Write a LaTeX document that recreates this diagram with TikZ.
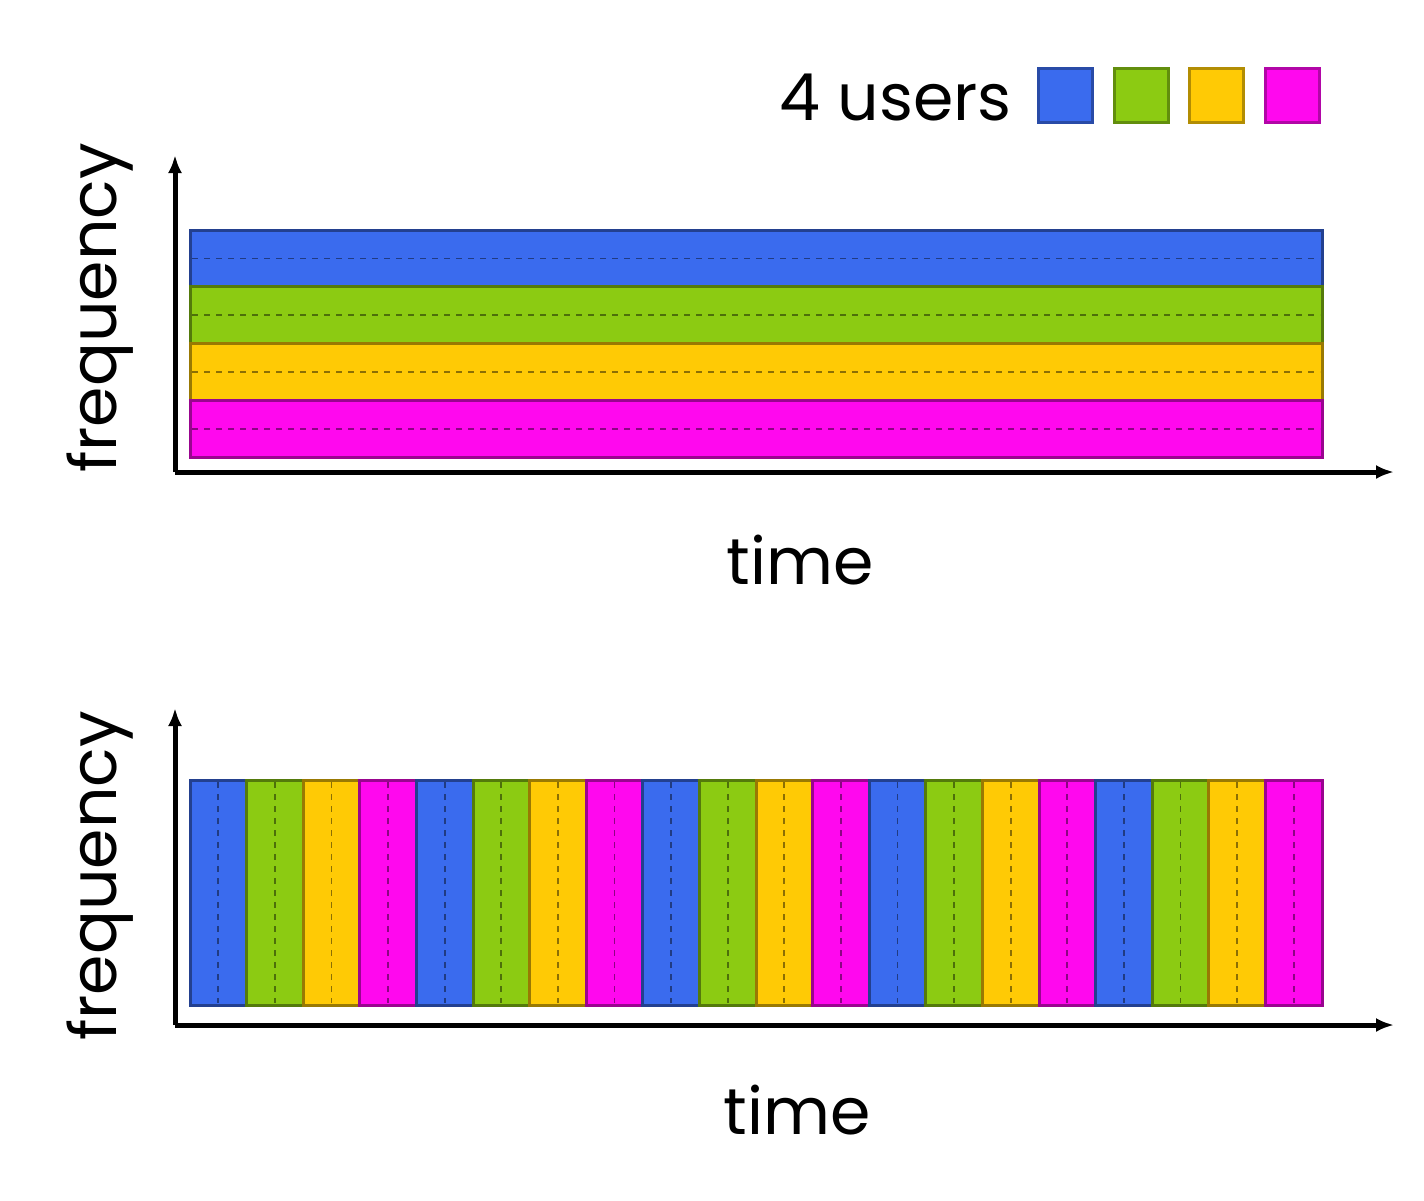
\documentclass[tikz,border=0pt]{standalone}
\usepackage{fontspec}
\setmainfont{Poppins}
\definecolor{ub}{HTML}{3A6BEE}
\definecolor{ug}{HTML}{8CCB12}
\definecolor{uy}{HTML}{FFCA05}
\definecolor{um}{HTML}{FF08EE}
\begin{document}
\begin{tikzpicture}[x=0.5pt,y=-0.5pt,
  axis/.style={line width=2.5pt,-{Latex[length=9pt,width=7pt]}},
  lbl/.style={font=\fontsize{32.5}{38}\selectfont,inner sep=0pt},
  dsh/.style={dashed,line width=0.9pt,dash pattern=on 3pt off 3pt}]
\usetikzlibrary{arrows.meta}
\useasboundingbox (0,0) rectangle (1424,1200);
\fill[white] (0,0) rectangle (1424,1200);
% legend
\node[lbl,anchor=east] (leg) at (1012,98) {4 users};
\foreach \c [count=\i from 0] in {ub,ug,uy,um}{
  \pgfmathsetmacro\xx{1037+75.5*\i}
  \node[draw=\c!70!black,fill=\c,line width=1.5pt,minimum size=27pt,inner sep=0pt,anchor=north west] (sq\i) at (\xx,67) {};
}
% top chart
\foreach \c [count=\i from 0] in {ub,ug,uy,um}{
  \pgfmathsetmacro\yy{230+56.75*\i}
  \pgfmathsetmacro\ym{\yy+28.4}
  \filldraw[fill=\c,draw=\c!60!black,line width=1.5pt] (190,\yy) rectangle (1322,\yy+56.75);
  \draw[dsh,\c!55!black] (192,\ym) -- (1320,\ym);
}
\coordinate (o1) at (175,472);
\coordinate (y1) at (175,155);
\coordinate (x1) at (1394,472);
\draw[axis] (o1) -- (y1);
\draw[axis] (o1) -- (x1);
\node[lbl,rotate=90] (f1) at (100,308) {frequency};
\node[lbl] (t1) at (800,560) {time};
% bottom chart
\foreach \k in {0,...,19}{
  \pgfmathtruncatemacro\m{mod(\k,4)}
  \ifcase\m \def\c{ub}\or \def\c{ug}\or \def\c{uy}\or \def\c{um}\fi
  \pgfmathsetmacro\xx{190+56.6*\k}
  \pgfmathsetmacro\xm{\xx+28.3}
  \filldraw[fill=\c,draw=\c!60!black,line width=1.5pt] (\xx,780) rectangle (\xx+56.6,1005);
  \draw[dsh,\c!55!black] (\xm,782) -- (\xm,1003);
}
\coordinate (o2) at (175,1025);
\coordinate (y2) at (175,708);
\coordinate (x2) at (1394,1025);
\draw[axis] (o2) -- (y2);
\draw[axis] (o2) -- (x2);
\node[lbl,rotate=90] (f2) at (100,876) {frequency};
\node[lbl] (t2) at (797,1110) {time};
\end{tikzpicture}
\end{document}
